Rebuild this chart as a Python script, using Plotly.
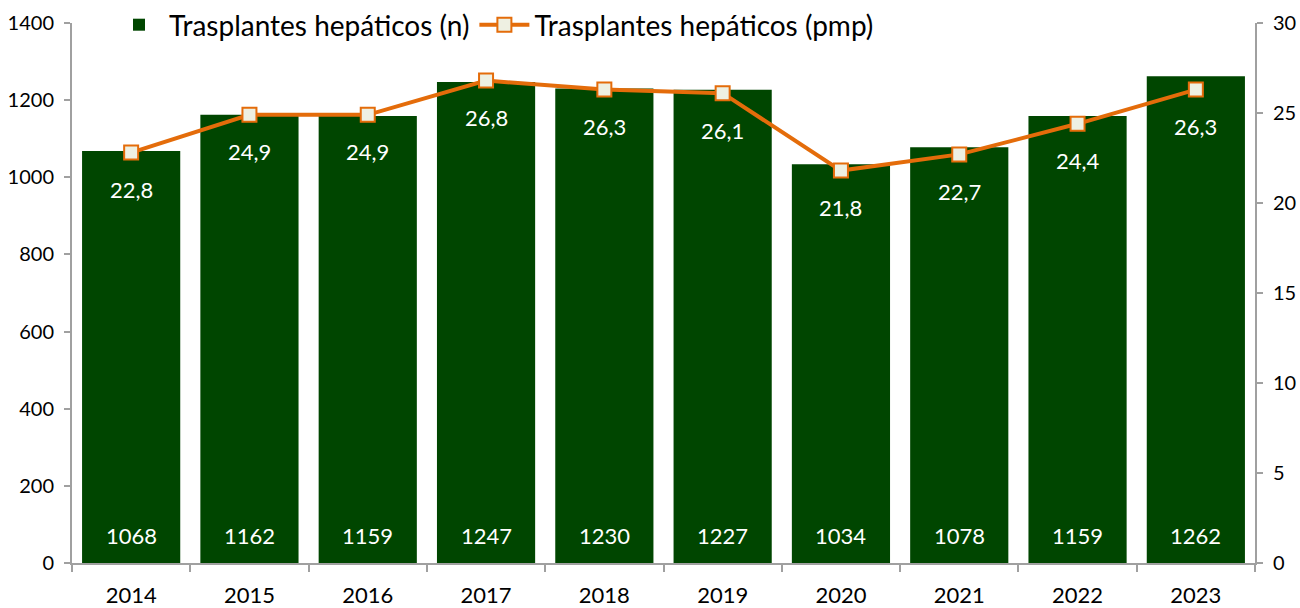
import plotly.graph_objects as go

years = ["2014", "2015", "2016", "2017", "2018", "2019", "2020", "2021", "2022", "2023"]
n_values = [1068, 1162, 1159, 1247, 1230, 1227, 1034, 1078, 1159, 1262]
pmp_values = [22.8, 24.9, 24.9, 26.8, 26.3, 26.1, 21.8, 22.7, 24.4, 26.3]
pmp_labels = ["22,8", "24,9", "24,9", "26,8", "26,3", "26,1", "21,8", "22,7", "24,4", "26,3"]

GREEN = "#004600"
ORANGE = "#E46C0A"
FONT = "Lato"

W, H = 1300, 608
ML, MR, MT, MB = 72, 45, 23, 45
plot_h_total = H - MB  # margin top set to 0, use domain for the top gap

fig = go.Figure()
fig.add_trace(go.Bar(
    x=years, y=n_values, name="Trasplantes hepáticos (n)",
    marker=dict(color=GREEN, line=dict(width=0)),
))
fig.add_trace(go.Scatter(
    x=years, y=pmp_values, name="Trasplantes hepáticos (pmp)", yaxis="y2",
    mode="lines+markers",
    line=dict(color=ORANGE, width=4),
    marker=dict(symbol="square", size=14, color="#EEF0E2", line=dict(color=ORANGE, width=2)),
))

annotations = []
for i, v in enumerate(n_values):
    annotations.append(dict(x=i, y=0, xref="x", yref="y", text=str(v), showarrow=False,
                            yanchor="bottom", yshift=12, font=dict(family=FONT, size=22, color="white")))
for i, (v, lab) in enumerate(zip(pmp_values, pmp_labels)):
    annotations.append(dict(x=i, y=v, xref="x", yref="y2", text=lab, showarrow=False,
                            yanchor="middle", yshift=-37, font=dict(family=FONT, size=22, color="white")))

dom_top = (plot_h_total - MT) / plot_h_total
axis_col = "#A0A0A0"
fig.update_layout(
    width=W, height=H,
    margin=dict(l=ML, r=MR, t=0, b=MB, autoexpand=False),
    plot_bgcolor="white", paper_bgcolor="white",
    bargap=0.17,
    font=dict(family=FONT, color="black"),
    showlegend=True,
    legend=dict(orientation="h", x=(109 - ML) / (W - ML - MR), y=1 - 25 / plot_h_total,
                xanchor="left", yanchor="middle", itemwidth=50,
                font=dict(size=28, family=FONT), bgcolor="rgba(0,0,0,0)",
                tracegroupgap=0),
    xaxis=dict(type="category", range=[-0.5, len(years) - 0.5], showline=True,
               linecolor=axis_col, linewidth=2, automargin=False,
               ticks="outside", ticklen=7, tickcolor=axis_col, tickwidth=2,
               tickson="boundaries", tickfont=dict(size=22, family=FONT),
               ticklabelstandoff=12,
               showgrid=False, mirror=False),
    yaxis=dict(range=[0, 1400], dtick=200, showline=True, linecolor=axis_col, linewidth=2,
               domain=[0, dom_top], automargin=False,
               ticks="outside", ticklen=6, tickcolor=axis_col, tickwidth=2,
               ticklabelstandoff=6,
               tickfont=dict(size=20, family=FONT), showgrid=False, zeroline=False),
    yaxis2=dict(range=[0, 30], dtick=5, overlaying="y", side="right", showline=True,
                linecolor=axis_col, linewidth=2, ticks="outside", ticklen=6, automargin=False,
                tickcolor=axis_col, tickwidth=2, tickfont=dict(size=20, family=FONT),
                ticklabelstandoff=6,
                showgrid=False, zeroline=False),
    annotations=annotations,
)

fig.write_html("out.html", config={"displayModeBar": False},
               post_script="document.body.style.margin='0';document.body.style.overflow='hidden';")
